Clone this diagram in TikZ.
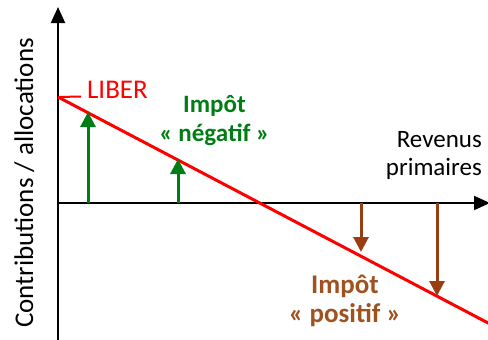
\documentclass[tikz,border=0pt]{standalone}
\usepackage{fontspec}
\setmainfont{Carlito}
\usetikzlibrary{arrows.meta}
\definecolor{lred}{RGB}{255,0,0}
\definecolor{lgreen}{RGB}{0,125,20}
\definecolor{lbrown}{RGB}{153,62,16}
\definecolor{tbrown}{RGB}{160,82,30}
\tikzset{
  axis/.style={line width=2pt, -{Triangle[length=16pt,width=14pt]}},
  liber/.style={lred, line width=3pt},
  garrow/.style={lgreen, line width=3pt, -{Triangle[length=15pt,width=15pt]}},
  barrow/.style={lbrown, line width=3pt, -{Triangle[length=15pt,width=15pt]}},
  lbl/.style={inner sep=0pt, align=center},
}
\begin{document}
\begin{tikzpicture}[x=1pt,y=-1pt]
\useasboundingbox (0,0) rectangle (488,340);
\coordinate (O) at (58,203);
\coordinate (Ybot) at (58,340);
\coordinate (Ytop) at (58,7);
\coordinate (Xend) at (490,203);
\coordinate (L0) at (58,97);
\coordinate (L1) at (490,324);
\draw[axis] (Ybot) -- (Ytop);
\draw[axis] (O) -- (Xend);
\draw[liber] (L0) -- (L1);
% green arrows
\coordinate (g1b) at (88,203); \coordinate (g1t) at (88,112);
\coordinate (g2b) at (178,203); \coordinate (g2t) at (178,159);
\draw[garrow] (g1b) -- (g1t);
\draw[garrow] (g2b) -- (g2t);
% brown arrows
\coordinate (b1t) at (361,203); \coordinate (b1b) at (361,252);
\coordinate (b2t) at (437,203); \coordinate (b2b) at (437,296);
\draw[barrow] (b1t) -- (b1b);
\draw[barrow] (b2t) -- (b2b);
% LIBER label
\node[lbl, lred, anchor=base, font=\fontsize{27}{30}\selectfont] (liberlbl) at (117.5,98) {LIBER};
\coordinate (lt) at (81,96.5);
\draw[lred, line width=2pt] (L0) -- (lt);
% labels
\node[lbl, lgreen, anchor=base, font=\bfseries\fontsize{25}{29}\selectfont] (neg) at (214.5,141) {Impôt\\« négatif »};
\node[lbl, tbrown, anchor=base, font=\bfseries\fontsize{27}{29}\selectfont] (pos) at (345,322) {Impôt\\« positif »};
\node[lbl, align=right, anchor=base east, font=\fontsize{25}{28}\selectfont] (rev) at (482,175) {Revenus\\primaires};
\node[lbl, rotate=90, anchor=base, font=\fontsize{27}{30}\selectfont] (ylab) at (33,183) {Contributions / allocations};
\end{tikzpicture}
\end{document}
